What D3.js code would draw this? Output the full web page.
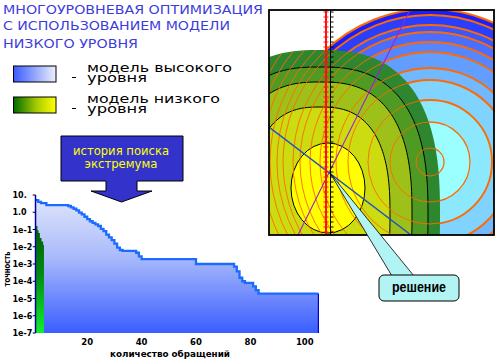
<!DOCTYPE html>
<html><head><meta charset="utf-8">
<script src="https://cdn.jsdelivr.net/npm/d3@7"></script>
<style>body{margin:0;background:#fff}svg{display:block}</style>
</head><body>
<svg id="c" width="500" height="360"></svg>
<script>
// ---------- data ----------
const titleLines = ["МНОГОУРОВНЕВАЯ ОПТИМИЗАЦИЯ", "С ИСПОЛЬЗОВАНИЕМ МОДЕЛИ", "НИЗКОГО УРОВНЯ"];
const legendLabels = [["модель высокого", "уровня"], ["модель низкого", "уровня"]];
const calloutLines = ["история поиска", "экстремума"];
const solutionLabel = "решение";
const xTitle = "количество обращений";
const yTitle = "точность";

// high-level model search history (step curve)
const iterations = [1,2,3,5,13,14,15,16,17,18,19,20,21,22,23,24,25,26,27,28,29,30,31,32,33,38,39,40,60,74,75,76,77,78,81,82,83,105];
const accuracy = [5.0,4.0,3.4,2.6,2.3,1.9,1.6,1.3,0.95,0.75,0.55,0.4,0.3,0.24,0.2,0.16,0.11,0.08,0.05,0.035,0.024,0.015,0.009,0.0065,0.0058,0.0045,0.0028,0.0019,0.001,0.0007,0.00037,0.00016,0.0001,0.00008,0.00005,0.00003,0.000019,0.000019];
// low-level model search history
const lowIterations = [1.2,1.7,2.1,2.6,3.2,3.8,4.1];
const lowAccuracy = [0.16,0.09,0.063,0.032,0.02,0.0126,0.0126];

const yTickValues = [10,1,1e-1,1e-2,1e-3,1e-4,1e-5,1e-6,1e-7];
const yTickLabels = ["10.","1.0","1e-1","1e-2","1e-3","1e-4","1e-5","1e-6","1e-7"];
const xTickValues = [20,40,60,80,100];

// contour picture (panel units 0..225)
const blueCenter = [162,152];
const blueRadii = [153,147,137,130,120,110,94,82,62,40];
const blueColors = ["#1a1eff","#2a3eff","#3a56ff","#4a6eff","#5686ff","#629eff","#70b8ff","#80d2ff","#8ce8fd","#9cffff"];
const greenLevels = [ // cx, cy, rx, ry
  [51,205,120,165],[51,205,108,148],[51,205,92,133],[51,205,70,108]];
const greenColors = ["#2e862e","#4f9a22","#9ec11a","#cddc10"];
const optimumEllipse = [59,178,37,45];
const orangeCenter = [161,152];
const orangeRadii = [14,40,62,82,94,110,120,130,137,147,153,160,168,176,184,193,202,212,222];

// ---------- drawing ----------
const svg = d3.select("#c");
const defs = svg.append("defs");
svg.append("rect").attr("width",500).attr("height",360).attr("fill","#fff");

function grad(id, attrs, stops){
  const g = defs.append("linearGradient").attr("id", id);
  Object.entries(attrs).forEach(([k,v])=>g.attr(k,v));
  stops.forEach(([o,c])=>g.append("stop").attr("offset",o).attr("stop-color",c));
}

// title
const title = svg.append("g").attr("font-family","DejaVu Sans").attr("font-size",13).attr("fill","#3c3cdc");
const titleW = [260,227,135];
const titleY = [13.5,30,47.5];
titleLines.forEach((t,i)=>title.append("text").attr("x",3).attr("y",titleY[i]).text(t)
  .attr("textLength",titleW[i]).attr("lengthAdjust","spacingAndGlyphs"));

// legend
grad("lgBlue",{x1:0,y1:0,x2:1,y2:0},[[0,"#3a5cff"],[1,"#ecf0fc"]]);
grad("lgGreen",{x1:0,y1:0,x2:1,y2:0},[[0,"#006a00"],[0.55,"#a8cc00"],[1,"#ffff00"]]);
const legendY = [66,97];
const legendFill = ["url(#lgBlue)","url(#lgGreen)"];
const legendTW = [[145,60],[133,60]];
legendLabels.forEach((lab,i)=>{
  const y0 = legendY[i];
  svg.append("rect").attr("x",13.5).attr("y",y0).attr("width",42.5).attr("height",16)
    .attr("fill",legendFill[i]).attr("stroke","#000").attr("stroke-width",1);
  svg.append("line").attr("x1",72).attr("x2",76).attr("y1",y0+11.5).attr("y2",y0+11.5).attr("stroke","#000");
  const tx = svg.append("text").attr("font-family","DejaVu Sans").attr("font-size",12).attr("fill","#000");
  lab.forEach((t,j)=>tx.append("tspan").attr("x",87).attr("y",y0+5.6+j*10.5)
    .attr("textLength",legendTW[i][j]).attr("lengthAdjust","spacingAndGlyphs").text(t));
});

// callout arrow
const arrowPts = [[61,136],[183,136],[183,181],[137,181],[137,191],[152,191],[121.5,202],[91,191],[106,191],[106,181],[61,181]];
svg.append("path").attr("d", d3.line()(arrowPts)+"Z").attr("fill","#3333cc").attr("stroke","#000").attr("stroke-width",1);
const cW = [96,73], cY=[154.5,168];
calloutLines.forEach((t,i)=>svg.append("text").attr("x",121).attr("y",cY[i]).attr("text-anchor","middle")
  .attr("font-family","DejaVu Sans").attr("font-size",12).attr("fill","#ffff00")
  .attr("textLength",cW[i]).attr("lengthAdjust","spacingAndGlyphs").text(t));

// ---------- history chart ----------
const x = d3.scaleLinear().domain([0,105]).range([32.8,318.4]);
const y = d3.scaleLog().domain([1e-7,10]).range([333,195]);
grad("areaG",{gradientUnits:"userSpaceOnUse",x1:0,y1:195,x2:0,y2:333},[[0,"#e2e7fa"],[0.45,"#a9bafb"],[1,"#3a5eff"]]);
grad("lowG",{gradientUnits:"userSpaceOnUse",x1:0,y1:225,x2:0,y2:333},[[0,"#005c00"],[0.45,"#008a10"],[1,"#10f02a"]]);
const hi = iterations.map((d,i)=>[d,accuracy[i]]);
const lo = lowIterations.map((d,i)=>[d,lowAccuracy[i]]);
const area = d3.area().x(d=>x(d[0])).y0(y(1e-7)).y1(d=>y(d[1])).curve(d3.curveStepAfter);
const line = d3.line().x(d=>x(d[0])).y(d=>y(d[1])).curve(d3.curveStepAfter);
svg.append("path").attr("d",area(hi)).attr("fill","url(#areaG)");
svg.append("path").attr("d",area(lo)).attr("fill","url(#lowG)");
svg.append("path").attr("d",line(hi)).attr("fill","none").attr("stroke","#1a6cff").attr("stroke-width",2.3);
const last = hi[hi.length-1];
svg.append("line").attr("x1",x(last[0])).attr("x2",x(last[0])).attr("y1",y(last[1])).attr("y2",y(1e-7)).attr("stroke","#0000cc").attr("stroke-width",1.2);
// y axis
const ax = x(1);
svg.append("line").attr("x1",ax).attr("x2",ax).attr("y1",y(10)).attr("y2",y(1e-7)).attr("stroke","#0000aa").attr("stroke-width",1.5);
const yg = svg.append("g").attr("font-family","DejaVu Sans").attr("font-weight","bold").attr("font-size",8);
yTickValues.forEach((v,i)=>{
  yg.append("line").attr("x1",ax-2.8).attr("x2",ax).attr("y1",y(v)).attr("y2",y(v)).attr("stroke","#000");
  yg.append("text").attr("x",12.5).attr("y",y(v)+3).attr("text-anchor","start").text(yTickLabels[i]);
});
xTickValues.forEach(v=>yg.append("text").attr("x",x(v)).attr("y",345).attr("font-size",8.5).attr("text-anchor","middle").text(v));
svg.append("text").attr("x",170).attr("y",357).attr("text-anchor","middle").attr("font-family","DejaVu Sans")
  .attr("font-weight","bold").attr("font-size",9.5).attr("textLength",120).attr("lengthAdjust","spacingAndGlyphs").text(xTitle);
svg.append("text").attr("transform","translate(10,269) rotate(-90)").attr("text-anchor","middle").attr("font-family","DejaVu Sans")
  .attr("font-weight","bold").attr("font-size",8.5).attr("textLength",35).attr("lengthAdjust","spacingAndGlyphs").text(yTitle);

// ---------- contour panel ----------
const px = d3.scaleLinear().domain([0,225]).range([269,494]);
const py = d3.scaleLinear().domain([0,225]).range([10,235]);
const sc = px(1)-px(0);
defs.append("clipPath").attr("id","panelClip").append("rect").attr("x",px(0)).attr("y",py(0)).attr("width",px(225)-px(0)).attr("height",py(225)-py(0));
function superEllipse(l,n){
  const pts=[];
  for(let a=0;a<360;a+=2){const t=a*Math.PI/180,c=Math.cos(t),s=Math.sin(t);
    pts.push([px(l[0]+l[2]*Math.sign(c)*Math.pow(Math.abs(c),2/n)), py(l[1]+l[3]*Math.sign(s)*Math.pow(Math.abs(s),2/n))]);}
  return d3.line().curve(d3.curveLinearClosed)(pts);
}
const panel = svg.append("g").attr("clip-path","url(#panelClip)");
panel.append("rect").attr("x",px(0)).attr("y",py(0)).attr("width",225*sc).attr("height",225*sc).attr("fill","#fff");
blueRadii.forEach((r,i)=>panel.append("circle").attr("cx",px(blueCenter[0])).attr("cy",py(blueCenter[1])).attr("r",r*sc).attr("fill",blueColors[i]));
// thick orange band separators in the blue zone
orangeRadii.filter(r=>r<=153).forEach(r=>panel.append("circle").attr("cx",px(orangeCenter[0])).attr("cy",py(orangeCenter[1])).attr("r",r*sc)
  .attr("fill","none").attr("stroke","#ff6a00").attr("stroke-width",r<=40?1.3:1.9));
greenLevels.forEach((l,i)=>panel.append("path").attr("d",superEllipse(l,2.6)).attr("fill",greenColors[i])
  .attr("stroke",i===0?"none":"#000").attr("stroke-width",1));
panel.append("ellipse").attr("cx",px(optimumEllipse[0])).attr("cy",py(optimumEllipse[1])).attr("rx",optimumEllipse[2]*sc).attr("ry",optimumEllipse[3]*sc)
  .attr("fill","#ffff00").attr("stroke","#000").attr("stroke-width",1);
// thin orange level lines over the green zone
defs.append("clipPath").attr("id","greenClip").append("path").attr("d",superEllipse(greenLevels[0],2.6));
const og = panel.append("g").attr("clip-path","url(#greenClip)");
orangeRadii.forEach(r=>og.append("circle").attr("cx",px(orangeCenter[0])).attr("cy",py(orangeCenter[1])).attr("r",r*sc)
  .attr("fill","none").attr("stroke","#ff6a00").attr("stroke-width",0.9));
// lines
panel.append("line").attr("x1",px(29)).attr("y1",py(225)).attr("x2",px(141)).attr("y2",py(0)).attr("stroke","#a020d0").attr("stroke-width",1.1);
panel.append("line").attr("x1",px(0)).attr("y1",py(117)).attr("x2",px(142)).attr("y2",py(225)).attr("stroke","#1f50c8").attr("stroke-width",1.4);
panel.append("line").attr("x1",px(57)).attr("x2",px(57)).attr("y1",py(0)).attr("y2",py(225)).attr("stroke","#ff1010").attr("stroke-width",2);
panel.append("line").attr("x1",px(61.5)).attr("x2",px(61.5)).attr("y1",py(0)).attr("y2",py(225)).attr("stroke","#000").attr("stroke-width",1);
d3.range(2,225,5).forEach(v=>{
  panel.append("line").attr("x1",px(61.5)).attr("x2",px(64.5)).attr("y1",py(v)).attr("y2",py(v)).attr("stroke","#000");
  panel.append("line").attr("x1",px(54.5)).attr("x2",px(59.5)).attr("y1",py(v)).attr("y2",py(v)).attr("stroke","#ff1010");
});
svg.append("rect").attr("x",px(0)).attr("y",py(0)).attr("width",225*sc).attr("height",225*sc).attr("fill","none").attr("stroke","#000").attr("stroke-width",1.8);

// solution callout
const wedge = [[61,163],[123,266],[145,266]];
svg.append("path").attr("d",d3.line()(wedge.map(p=>[px(p[0]),py(p[1])]))+"Z").attr("fill","#b2f4f4").attr("stroke","#000").attr("stroke-width",0.8);
svg.append("rect").attr("x",px(110)).attr("y",py(265)).attr("width",80*sc).attr("height",26*sc).attr("rx",5).attr("fill","#b2f4f4").attr("stroke","#000").attr("stroke-width",1);
svg.append("text").attr("x",px(150)).attr("y",py(282.3)).attr("text-anchor","middle").attr("font-family","Liberation Sans")
  .attr("font-weight","bold").attr("font-size",14).attr("fill","#000").attr("textLength",54).attr("lengthAdjust","spacingAndGlyphs").text(solutionLabel);
</script>
</body></html>
